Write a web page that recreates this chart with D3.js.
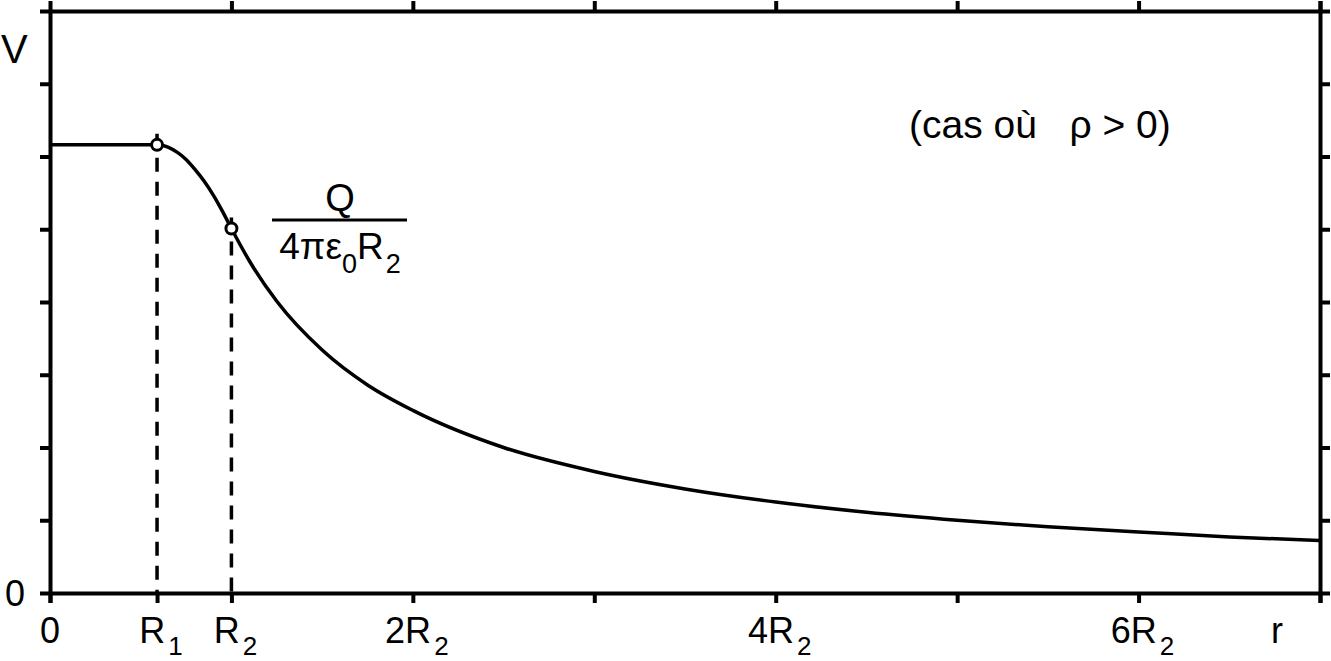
<!DOCTYPE html>
<html>
<head>
<meta charset="utf-8">
<script src="https://cdn.jsdelivr.net/npm/d3@7"></script>
<style>
  html, body { margin: 0; padding: 0; background: #fff; }
  svg { display: block; }
  text { font-family: "Liberation Sans", Arial, Helvetica, sans-serif; fill: #000; }
</style>
</head>
<body>
<svg id="chart" width="1331" height="661"></svg>
<script>
// ---- data (r in units of R2, V in arbitrary units) ----
const rValues = [0, 0.30, 0.59, 0.65, 0.70, 0.75, 0.80, 0.85, 0.90, 0.95, 1.00,
                 1.10, 1.25, 1.50, 1.75, 2.00, 2.50, 3.00, 3.50, 4.00, 4.50,
                 5.00, 5.50, 6.00, 6.50, 7.00];
const vValues = [6.16, 6.16, 6.16, 6.13, 6.06, 5.96, 5.82, 5.66, 5.47, 5.25, 5.01,
                 4.56, 4.01, 3.34, 2.86, 2.51, 2.00, 1.67, 1.43, 1.25, 1.11,
                 1.00, 0.91, 0.84, 0.77, 0.72];
const R1 = 0.59;
const markerR = [0.59, 1.00];
const markerV = [6.16, 5.01];
const xTickValues = [0, 0.59, 1, 2, 3, 4, 5, 6, 7];
const xTickMain   = ["0", "R", "R", "2R", "", "4R", "", "6R", ""];
const xTickSub    = ["", "1", "2", "2", "", "2", "", "2", ""];
const topTickValues = [1, 2, 3, 4, 5, 6, 7];
const yTickValues = [1, 2, 3, 4, 5, 6, 7];
const xDomain = [0, 7];
const yDomain = [0, 8];

// ---- layout ----
const svg = d3.select("#chart");
const L = 50, R = 1320, T = 11, B = 593;
const x = d3.scaleLinear().domain(xDomain).range([L, R]);
const y = d3.scaleLinear().domain(yDomain).range([B, T]);
const tick = 10;
const axisW = 4;

// axes
const gB = svg.append("g").attr("transform", `translate(0,${B})`)
  .call(d3.axisBottom(x).tickValues(xTickValues).tickSize(tick).tickSizeOuter(tick).tickFormat(""));
const gT = svg.append("g").attr("transform", `translate(0,${T})`)
  .call(d3.axisTop(x).tickValues(topTickValues).tickSize(tick).tickSizeOuter(tick).tickFormat(""));
const gL = svg.append("g").attr("transform", `translate(${L},0)`)
  .call(d3.axisLeft(y).tickValues(yTickValues).tickSize(tick).tickSizeOuter(tick).tickFormat(""));
const gR = svg.append("g").attr("transform", `translate(${R},0)`)
  .call(d3.axisRight(y).tickValues(yTickValues).tickSize(tick).tickSizeOuter(tick).tickFormat(""));
[gB, gT, gL, gR].forEach(g => {
  g.selectAll("path.domain").attr("stroke", "#000").attr("stroke-width", axisW).attr("fill", "none");
  g.selectAll(".tick line").attr("stroke", "#000").attr("stroke-width", axisW);
  g.selectAll(".tick text").remove();
});

// bottom tick labels with subscripts
const fs = 36, fsSub = 26;
xTickValues.forEach((v, i) => {
  if (!xTickMain[i]) return;
  const t = svg.append("text")
    .attr("x", x(v) + (xTickSub[i] ? 4 : 0)).attr("y", 643)
    .attr("text-anchor", "middle").attr("font-size", fs);
  t.append("tspan").text(xTickMain[i]);
  if (xTickSub[i]) t.append("tspan").attr("font-size", fsSub).attr("dx", 3).attr("dy", 12).text(xTickSub[i]);
});
svg.append("text").attr("x", 1277).attr("y", 643).attr("text-anchor", "middle")
  .attr("font-size", fs).text("r");

// y labels
svg.append("text").attr("x", 25).attr("y", y(0) + 13).attr("text-anchor", "end")
  .attr("font-size", fs).text("0");
svg.append("text").attr("x", 1).attr("y", 63).attr("font-size", 40).text("V");

// dashed guide lines
[R1, 1].forEach((rv, i) => {
  svg.append("line")
    .attr("x1", x(rv)).attr("x2", x(rv))
    .attr("y1", y(markerV[i]) - 11).attr("y2", B)
    .attr("stroke", "#000").attr("stroke-width", 3.5)
    .attr("stroke-dasharray", "14,10");
});

// curve
const pts = rValues.map((r, i) => [r, vValues[i]]);
svg.append("path").datum(pts)
  .attr("fill", "none").attr("stroke", "#000").attr("stroke-width", 3.5)
  .attr("d", d3.line().x(d => x(d[0])).y(d => y(d[1])).curve(d3.curveMonotoneX));

// markers
svg.selectAll("circle.m").data(markerR).enter().append("circle")
  .attr("class", "m")
  .attr("cx", d => x(d)).attr("cy", (d, i) => y(markerV[i])).attr("r", 5.5)
  .attr("fill", "#fff").attr("stroke", "#000").attr("stroke-width", 3);

// fraction Q / (4 pi eps0 R2)
const fx = 340;
svg.append("text").attr("x", fx).attr("y", 211).attr("text-anchor", "middle")
  .attr("font-size", 38).text("Q");
svg.append("line").attr("x1", 272).attr("x2", 407).attr("y1", 220).attr("y2", 220)
  .attr("stroke", "#000").attr("stroke-width", 3);
const den = svg.append("text").attr("x", fx).attr("y", 259).attr("text-anchor", "middle")
  .attr("font-size", 37);
den.append("tspan").text("4πε");
den.append("tspan").attr("font-size", 27).attr("dy", 14).text("0");
den.append("tspan").attr("dy", -14).text("R");
den.append("tspan").attr("font-size", 27).attr("dx", 2).attr("dy", 14).text("2");

// case annotation
svg.append("text").attr("x", 909).attr("y", 138).attr("font-size", 39)
  .attr("xml:space", "preserve").style("white-space", "pre")
  .text("(cas où   ρ > 0)");
</script>
</body>
</html>
